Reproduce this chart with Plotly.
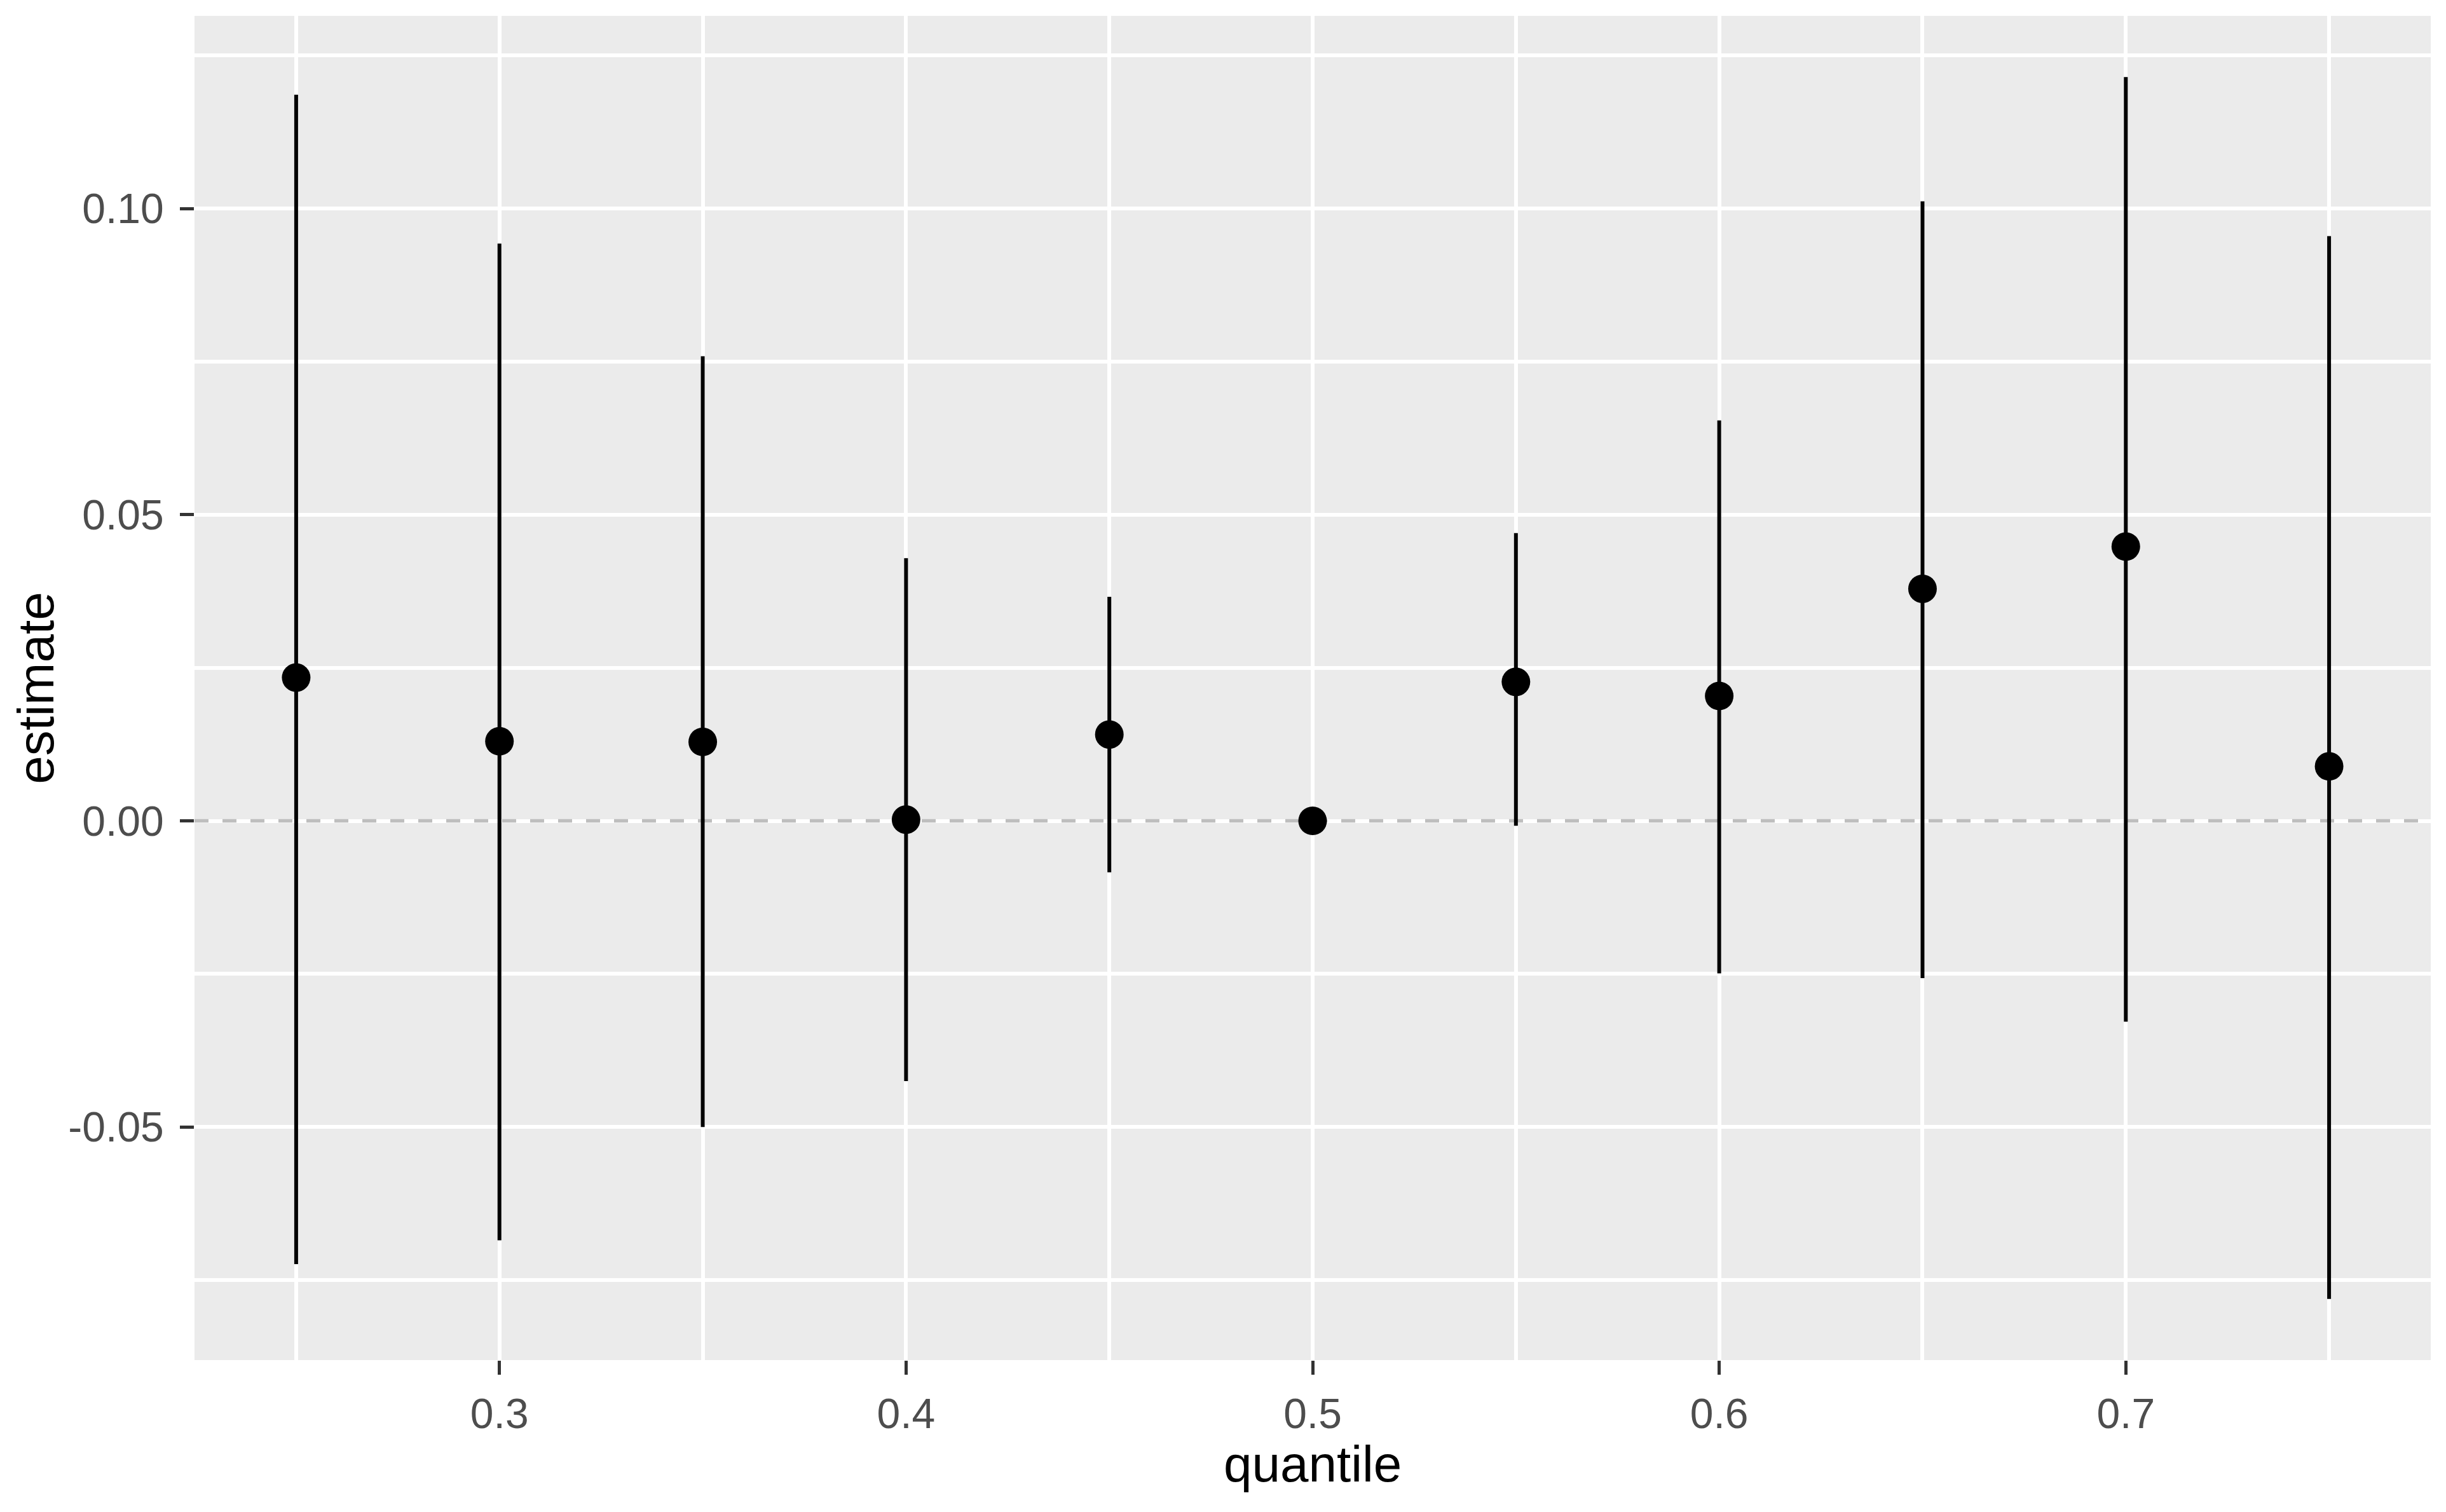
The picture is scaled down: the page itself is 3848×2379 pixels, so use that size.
import plotly.graph_objects as go

# Data
quantile = [0.25, 0.30, 0.35, 0.40, 0.45, 0.50, 0.55, 0.60, 0.65, 0.70, 0.75]
estimate = [0.0234, 0.0130, 0.0129, 0.0002, 0.0141, 0.0000, 0.0227, 0.0204, 0.0379, 0.0448, 0.0089]
conf_low = [-0.0724, -0.0685, -0.0500, -0.0425, -0.0084, 0.0000, -0.0008, -0.0249, -0.0257, -0.0328, -0.0781]
conf_high = [0.1186, 0.0943, 0.0759, 0.0429, 0.0366, 0.0000, 0.0470, 0.0654, 0.1012, 0.1215, 0.0955]

x_tickvals = [0.3, 0.4, 0.5, 0.6, 0.7]
x_ticktext = ["0.3", "0.4", "0.5", "0.6", "0.7"]
y_tickvals = [-0.05, 0.00, 0.05, 0.10]
y_ticktext = ["-0.05", "0.00", "0.05", "0.10"]
ref_line_y = 0.0

err_plus = [h - e for h, e in zip(conf_high, estimate)]
err_minus = [e - l for e, l in zip(estimate, conf_low)]

# ggplot-like 5% expansion
xmin, xmax = min(quantile), max(quantile)
xpad = (xmax - xmin) * 0.05
ymin, ymax = min(conf_low), max(conf_high)
ypad = (ymax - ymin) * 0.05
xr = [xmin - xpad, xmax + xpad]

FONT = "Liberation Sans, Arial, sans-serif"

fig = go.Figure()
# dashed reference line at 0 (above grid, below the marks)
fig.add_trace(go.Scatter(
    x=xr, y=[ref_line_y, ref_line_y], mode="lines",
    line=dict(color="#BEBEBE", width=5.5, dash="22px,22px"),
    showlegend=False, hoverinfo="skip", cliponaxis=True,
))
fig.add_trace(go.Scatter(
    x=quantile, y=estimate, mode="markers",
    marker=dict(color="black", size=45),
    error_y=dict(type="data", symmetric=False, array=err_plus, arrayminus=err_minus,
                 color="black", thickness=6, width=0),
    showlegend=False, hoverinfo="x+y",
))

grid = dict(showgrid=True, gridcolor="white", gridwidth=5.5)

fig.update_xaxes(
    range=xr,
    tickvals=x_tickvals, ticktext=x_ticktext,
    ticks="outside", ticklen=22, tickwidth=5, tickcolor="#333333",
    tickfont=dict(family=FONT, size=66, color="#4D4D4D"),
    ticklabelstandoff=5,
    showline=False, zeroline=False,
    minor=dict(tickvals=[0.25, 0.35, 0.45, 0.55, 0.65, 0.75], ticks="", showgrid=True,
               gridcolor="white", gridwidth=5.5),
    **grid,
)
fig.update_yaxes(
    range=[ymin - ypad, ymax + ypad],
    tickvals=y_tickvals, ticktext=y_ticktext,
    ticks="outside", ticklen=22, tickwidth=5, tickcolor="#333333",
    tickfont=dict(family=FONT, size=66, color="#4D4D4D"),
    ticklabelstandoff=12,
    showline=False, zeroline=False,
    minor=dict(tickvals=[-0.075, -0.025, 0.025, 0.075, 0.125], ticks="", showgrid=True,
               gridcolor="white", gridwidth=5.5),
    **grid,
)

# page body has an 8px margin, so the figure is sized/offset to compensate
fig.update_layout(
    width=3840, height=2371,
    margin=dict(l=298, r=24, t=17, b=239, autoexpand=False),
    plot_bgcolor="#EBEBEB", paper_bgcolor="white",
    font=dict(family=FONT, color="black"),
    annotations=[
        dict(text="quantile", xref="paper", yref="paper", x=0.5, y=-0.0775,
             xanchor="center", yanchor="middle", showarrow=False,
             font=dict(family=FONT, size=80, color="black")),
        dict(text="estimate", xref="paper", yref="paper", x=-0.071, y=0.5,
             xanchor="center", yanchor="middle", textangle=-90, showarrow=False,
             font=dict(family=FONT, size=80, color="black")),
    ],
)

fig.write_html("out.html")
